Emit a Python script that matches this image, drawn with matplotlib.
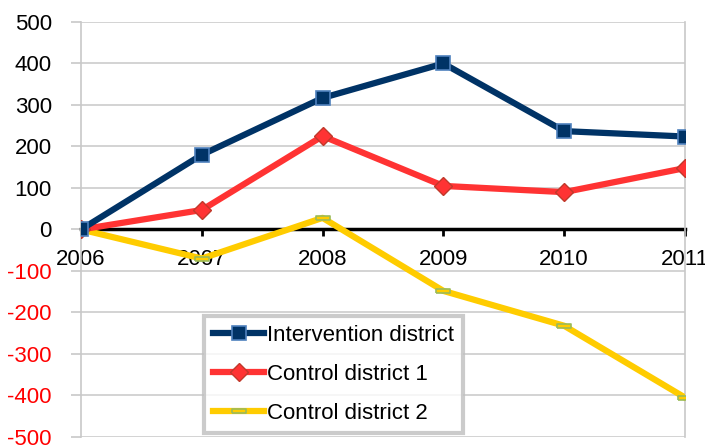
import matplotlib
matplotlib.use("Agg")
import matplotlib.pyplot as plt

years = ["2006", "2007", "2008", "2009", "2010", "2011"]
intervention = [0, 180, 317, 400, 237, 224]
control1 = [0, 47, 225, 105, 90, 148]
control2 = [0, -70, 28, -148, -232, -405]
y_ticks = [-500, -400, -300, -200, -100, 0, 100, 200, 300, 400, 500]

plt.rcParams["font.family"] = ["Liberation Sans", "DejaVu Sans"]

fig = plt.figure(figsize=(7.05, 4.46), dpi=100)
ax = fig.add_axes([0.1149, 0.0202, 0.8567, 0.9305])

x = list(range(len(years)))

# flat rectangle marker for control district 2
rect = [(-1, -0.3), (1, -0.3), (1, 0.3), (-1, 0.3), (-1, -0.3)]

ax.plot(x, intervention, color="#003366", lw=4.5, marker="s", ms=10,
        mfc="#003366", mec="#4f81bd", mew=1.2, label="Intervention district", zorder=5)
ax.plot(x, control1, color="#ff3333", lw=4.5, marker="D", ms=9,
        mfc="#ff3333", mec="#c0392b", mew=1.0, label="Control district 1", zorder=4)
ax.plot(x, control2, color="#ffcc00", lw=4.5, marker=rect, ms=10,
        mfc="#ffcc00", mec="#9bbb59", mew=1.2, label="Control district 2", zorder=3)

ax.set_xlim(0, len(years) - 1)
ax.set_ylim(-500, 500)

ax.spines["bottom"].set_position(("data", 0))
ax.spines["bottom"].set_color("black")
ax.spines["bottom"].set_linewidth(2.5)
ax.spines["bottom"].set_zorder(2)
ax.spines["top"].set_visible(False)
ax.spines["left"].set_color("#c8c8c8")
ax.spines["left"].set_linewidth(1.2)
ax.spines["right"].set_color("#c8c8c8")
ax.spines["right"].set_linewidth(1.2)

ax.set_xticks(x)
ax.set_xticklabels(years)
ax.set_yticks(y_ticks)
ax.set_yticklabels([str(v) for v in y_ticks])
ax.tick_params(axis="x", direction="out", length=5, width=2, color="black",
               pad=9, labelsize=16)
ax.tick_params(axis="y", length=7, width=1.2, color="#c8c8c8", pad=14, labelsize=16)
for lab, v in zip(ax.get_yticklabels(), y_ticks):
    if v < 0:
        lab.set_color("red")

ax.grid(axis="y", color="#cccccc", lw=1.2)
ax.set_axisbelow(True)

leg = ax.legend(loc="lower left", bbox_to_anchor=(0.197, 0.0), fontsize=16,
                frameon=True, fancybox=False, handlelength=2.3, handletextpad=0.1,
                borderpad=0.4, labelspacing=0.8, borderaxespad=0.2)
leg.get_frame().set_edgecolor("#bfbfbf")
leg.get_frame().set_linewidth(3)
leg.set_zorder(10)

fig.savefig("out.png", dpi=100)
